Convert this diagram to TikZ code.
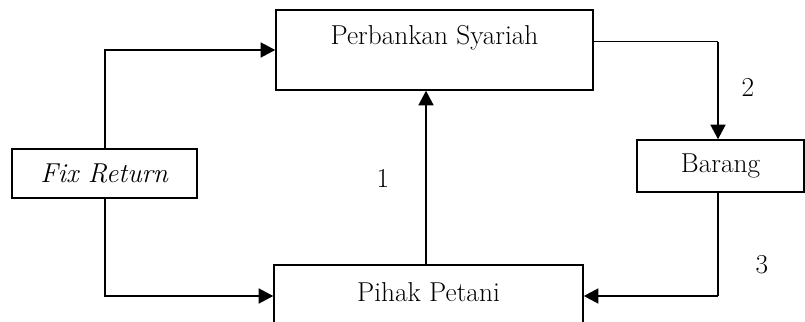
\documentclass[tikz,border=0pt]{standalone}
\usetikzlibrary{arrows.meta}

\tikzset{
  box/.style={draw, line width=1pt, inner sep=0pt},
  flow/.style={line width=2pt, -{Triangle[length=11pt, width=11pt]}},
  thinflow/.style={line width=1pt},
}

\begin{document}
\begin{tikzpicture}[x=30pt, y=30pt, font=\fontsize{20.5}{24}\selectfont]
\useasboundingbox (0,0) rectangle (20.125,8.025);
\clip (0,0) rectangle (20.125,8.025);

\node[box, minimum width=7.925*30pt, minimum height=2*30pt] (Bank) at (10.8625,6.775) {};
\node (Bank Text) at (10.8625,7.075) {Perbankan Syariah};

\node[box, minimum width=4.625*30pt, minimum height=1.225*30pt] (Fix) at (2.6125,3.6875) {\textit{Fix Return}};

\node[box, minimum width=4.175*30pt, minimum height=1.3*30pt] (Barang) at (18.0125,3.875) {Barang};

\node[box, minimum width=7.725*30pt, minimum height=2*30pt] (Petani) at (10.7125,0.4) {};
\node (Petani Text) at (10.7125,0.725) {Pihak Petani};

\node (Num 1) at (9.575,3.575) {1};
\node (Num 2) at (18.7,5.85) {2};
\node (Num 3) at (19.05,1.4) {3};

\coordinate (Turn 2) at (17.95,6.98);
\coordinate (Turn 3) at (17.95,0.625);

\draw[flow] (Fix.north -| 2.625,0) |- (Bank.west |- 0,6.775);
\draw[flow] (Fix.south -| 2.625,0) |- (Petani.west |- 0,0.625);
\draw[flow] (Petani.north -| 10.65,0) -- (Bank.south -| 10.65,0);
\draw[thinflow] (Bank.east |- Turn 2) -- (Turn 2);
\draw[flow] (Turn 2) -- (Turn 2 |- Barang.north);
\draw[thinflow] (Barang.south -| Turn 3) -- (Turn 3);
\draw[flow] (Turn 3) -- (Petani.east |- Turn 3);
\end{tikzpicture}
\end{document}
